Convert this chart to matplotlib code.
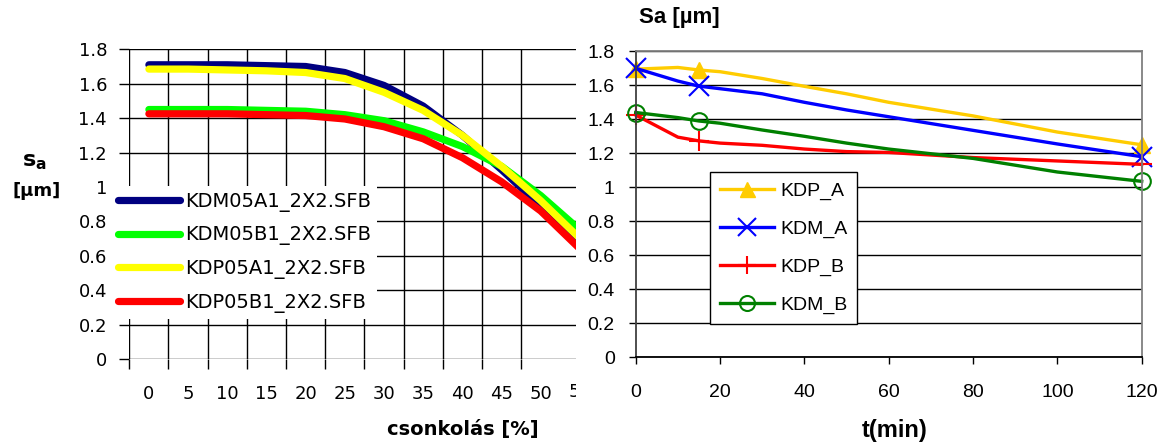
import numpy as np
import matplotlib
matplotlib.use('Agg')
import matplotlib.pyplot as plt
from matplotlib.transforms import Bbox, TransformedBbox

# left chart: Sa versus truncation
cut_labels = ['0', '5', '10', '15', '20', '25', '30', '35', '40', '45', '50', '55']
kdm05a1 = [1.71, 1.71, 1.71, 1.705, 1.70, 1.665, 1.59, 1.47, 1.30, 1.10, 0.89, 0.66]
kdm05b1 = [1.45, 1.45, 1.45, 1.445, 1.44, 1.42, 1.385, 1.32, 1.235, 1.12, 0.95, 0.75]
kdp05a1 = [1.685, 1.685, 1.68, 1.675, 1.665, 1.63, 1.55, 1.445, 1.30, 1.12, 0.92, 0.70]
kdp05b1 = [1.425, 1.425, 1.425, 1.42, 1.415, 1.395, 1.35, 1.28, 1.17, 1.03, 0.86, 0.64]

# right chart: Sa versus time
t_min = [0, 10, 15, 20, 30, 40, 50, 60, 80, 100, 120]
kdp_a = [1.695, 1.705, 1.69, 1.68, 1.64, 1.594, 1.55, 1.50, 1.42, 1.325, 1.25]
kdm_a = [1.70, 1.625, 1.595, 1.58, 1.55, 1.50, 1.455, 1.415, 1.335, 1.255, 1.18]
kdp_b = [1.425, 1.295, 1.273, 1.26, 1.247, 1.225, 1.21, 1.205, 1.175, 1.155, 1.135]
kdm_b = [1.44, 1.41, 1.39, 1.377, 1.337, 1.30, 1.26, 1.225, 1.17, 1.09, 1.035]
mark_idx = [0, 2, 10]

W, H = 1167, 447
fig = plt.figure(figsize=(W / 100, H / 100), dpi=100)


def frac(x0, y0, x1, y1):
    return [x0 / W, 1 - y1 / H, (x1 - x0) / W, (y1 - y0) / H]


# ---------------- left panel ----------------
ax1 = fig.add_axes(frac(129.3, 49.3, 576, 359))
pos = np.arange(len(cut_labels))
series = [(kdm05a1, '#000080', 'KDM05A1_2X2.SFB'),
          (kdm05b1, '#00FF00', 'KDM05B1_2X2.SFB'),
          (kdp05a1, '#FFFF00', 'KDP05A1_2X2.SFB'),
          (kdp05b1, '#FF0000', 'KDP05B1_2X2.SFB')]
for vals, col, lab in series:
    ax1.plot(pos, vals, color=col, lw=5.2, solid_capstyle='round',
             solid_joinstyle='round', label=lab)

ax1.set_xlim(-0.5, 10.9)
ax1.set_ylim(0, 1.8)
ax1.set_yticks(np.arange(0, 1.81, 0.2))
ax1.set_yticklabels(['0', '0.2', '0.4', '0.6', '0.8', '1', '1.2', '1.4', '1.6', '1.8'],
                    fontsize=13, family='DejaVu Sans')
ax1.set_xticks(pos[:11] - 0.5)
ax1.set_xticklabels([])
ax1.set_xticks(pos[:11], minor=True)
ax1.set_xticklabels(cut_labels[:11], minor=True, fontsize=13, family='DejaVu Sans')
ax1.tick_params(axis='x', which='minor', length=0, pad=19)
ax1.tick_params(axis='x', which='major', length=7, width=1, color='black')
ax1.tick_params(axis='y', length=7, width=1, pad=9)
ax1.grid(True, which='major', color='black', lw=1)
for s in ax1.spines.values():
    s.set_visible(False)
ax1.set_axisbelow(True)

# the last label is cut off at the right border of the picture
lab55 = ax1.text(pos[11], -(392 - 359) / 309.7, cut_labels[11], fontsize=13,
                 family='DejaVu Sans', ha='center', va='center',
                 transform=ax1.get_xaxis_transform(), clip_on=True)
lab55.set_clip_box(TransformedBbox(Bbox([[0, 0], [576 / W, 1]]), fig.transFigure))

leg1 = ax1.legend(loc='upper left', bbox_to_anchor=(112 / W, 1 - 186 / H),
                  bbox_transform=fig.transFigure, fontsize=14, frameon=True,
                  facecolor='white', edgecolor='none', framealpha=1, fancybox=False,
                  handlelength=3.2, handletextpad=0.25, labelspacing=0.7,
                  borderpad=0.3, borderaxespad=0,
                  prop={'family': 'DejaVu Sans', 'size': 14})

fig.text(34 / W, 1 - 162 / H, r'$\mathbf{s_a}$', fontsize=16, ha='center', va='center')
fig.text(37 / W, 1 - 191 / H, '[µm]', fontsize=13, weight='bold', ha='center',
         va='center', family='DejaVu Sans')
fig.text(463 / W, 1 - 430 / H, 'csonkolás [%]', fontsize=14, weight='bold',
         ha='center', va='center', family='DejaVu Sans')

# ---------------- right panel ----------------
ax2 = fig.add_axes(frac(635.7, 51.3, 1141.7, 357.3))
ax2.plot(t_min, kdp_a, color='#FFCC00', lw=2.4, marker='^', ms=12, markevery=mark_idx,
         label='KDP_A')
ax2.plot(t_min, kdm_a, color='#0000FF', lw=2.4, marker='x', ms=14, mew=1.5,
         markevery=mark_idx, label='KDM_A')
ax2.plot(t_min, kdp_b, color='#FF0000', lw=2.4, marker='+', ms=15, mew=1.5,
         markevery=mark_idx, label='KDP_B')
ax2.plot(t_min, kdm_b, color='#008000', lw=2.4, marker='o', ms=12, mew=1.5,
         mfc='none', markevery=mark_idx, label='KDM_B')

ax2.set_xlim(0, 120)
ax2.set_ylim(0, 1.8)
ax2.set_xticks(range(0, 121, 20))
ax2.set_yticks(np.arange(0, 1.81, 0.2))
ax2.set_yticklabels(['0', '0.2', '0.4', '0.6', '0.8', '1', '1.2', '1.4', '1.6', '1.8'])
ax2.tick_params(labelsize=14, length=5, width=1)
ax2.tick_params(axis='x', pad=14)
ax2.tick_params(axis='y', pad=10)
for lab in ax2.get_xticklabels() + ax2.get_yticklabels():
    lab.set_family('Liberation Sans')
ax2.yaxis.grid(True, color='black', lw=1)
ax2.set_axisbelow(True)
ax2.spines['top'].set_color('#808080')
ax2.spines['right'].set_color('#808080')
ax2.spines['left'].set_color('#404040')
for s in ax2.spines.values():
    s.set_linewidth(1.3)
for ln in ax2.get_lines():
    ln.set_clip_on(False)

leg2 = ax2.legend(loc='upper left', bbox_to_anchor=(710 / W, 1 - 172 / H),
                  bbox_transform=fig.transFigure, frameon=True,
                  facecolor='white', edgecolor='black', framealpha=1, fancybox=False,
                  handlelength=2.8, handletextpad=0.3, labelspacing=1.05,
                  borderpad=0.5, borderaxespad=0, markerscale=0.9,
                  prop={'family': 'Liberation Sans', 'size': 14})
leg2.get_frame().set_linewidth(1)

fig.text(679 / W, 1 - 18 / H, 'Sa [µm]', fontsize=16, weight='bold', ha='center',
         va='center', family='Liberation Sans')
fig.text(895 / W, 1 - 431 / H, 't(min)', fontsize=17, weight='bold', ha='center',
         va='center', family='Liberation Sans')

fig.savefig('out.png', dpi=100)
